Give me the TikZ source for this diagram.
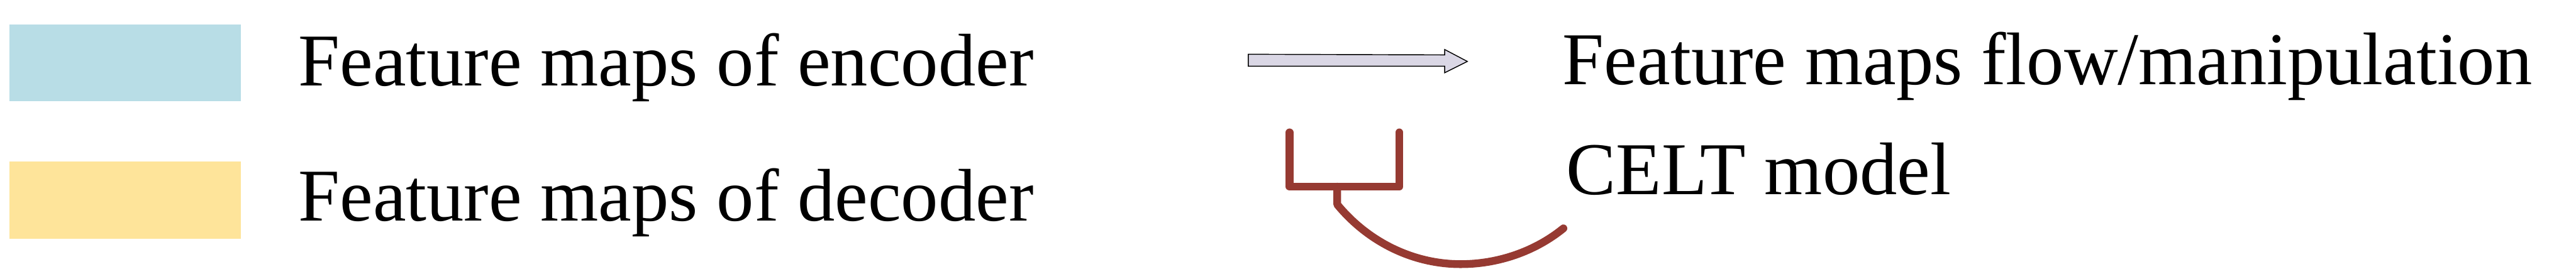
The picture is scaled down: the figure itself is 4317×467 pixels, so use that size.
\documentclass[tikz,border=0pt]{standalone}
\usepackage{fontspec}
\setmainfont{Liberation Serif}
\definecolor{encblue}{HTML}{B8DDE6}
\definecolor{decyellow}{HTML}{FEE49A}
\definecolor{arrowfill}{HTML}{DAD7E5}
\definecolor{celtred}{HTML}{963A32}
\begin{document}
\begin{tikzpicture}[x=0.1pt,y=-0.1pt,
  legendtext/.style={anchor=base west,inner sep=0pt,font=\fontsize{12.5pt}{14pt}\selectfont},
  swatch/.style={inner sep=0pt,outer sep=0pt,anchor=north west,minimum width=38.8pt,minimum height=12.9pt},
  celtline/.style={draw=celtred,line width=1.3pt,line cap=round,line join=round}]
\useasboundingbox (0,0) rectangle (4317,467);
% swatches
\node[swatch,fill=encblue] (enc) at (16,41) {};
\node[swatch,fill=decyellow] (dec) at (16,271) {};
\node[legendtext] (enctext) at (498,144) {Feature maps of encoder};
\node[legendtext] (dectext) at (498,370) {Feature maps of decoder};
% flow arrow
\draw[fill=arrowfill,line width=0.15pt,line join=miter]
  (2092,91) -- (2421,92) -- (2421,83) -- (2459,103) -- (2421,122) -- (2421,111) -- (2092,111) -- cycle;
\node[legendtext] (flowtext) at (2617,142) {Feature maps flow/manipulation};
% CELT symbol
\coordinate (tl) at (2161,222);
\coordinate (tr) at (2345,222);
\coordinate (bl) at (2161,313);
\coordinate (br) at (2345,313);
\coordinate (stemtop) at (2241,313);
\coordinate (stembot) at (2241,343);
\coordinate (bottom) at (2448,443);
\coordinate (arcend) at (2620,383);
\draw[celtline] (tl) -- (bl) -- (br) -- (tr);
\draw[celtline] (stemtop) -- (stembot)
  .. controls (2292,405) and (2367,443) .. (bottom)
  .. controls (2510,443) and (2572,422) .. (arcend);
\node[legendtext] (celttext) at (2623,326) {CELT model};
\end{tikzpicture}
\end{document}
